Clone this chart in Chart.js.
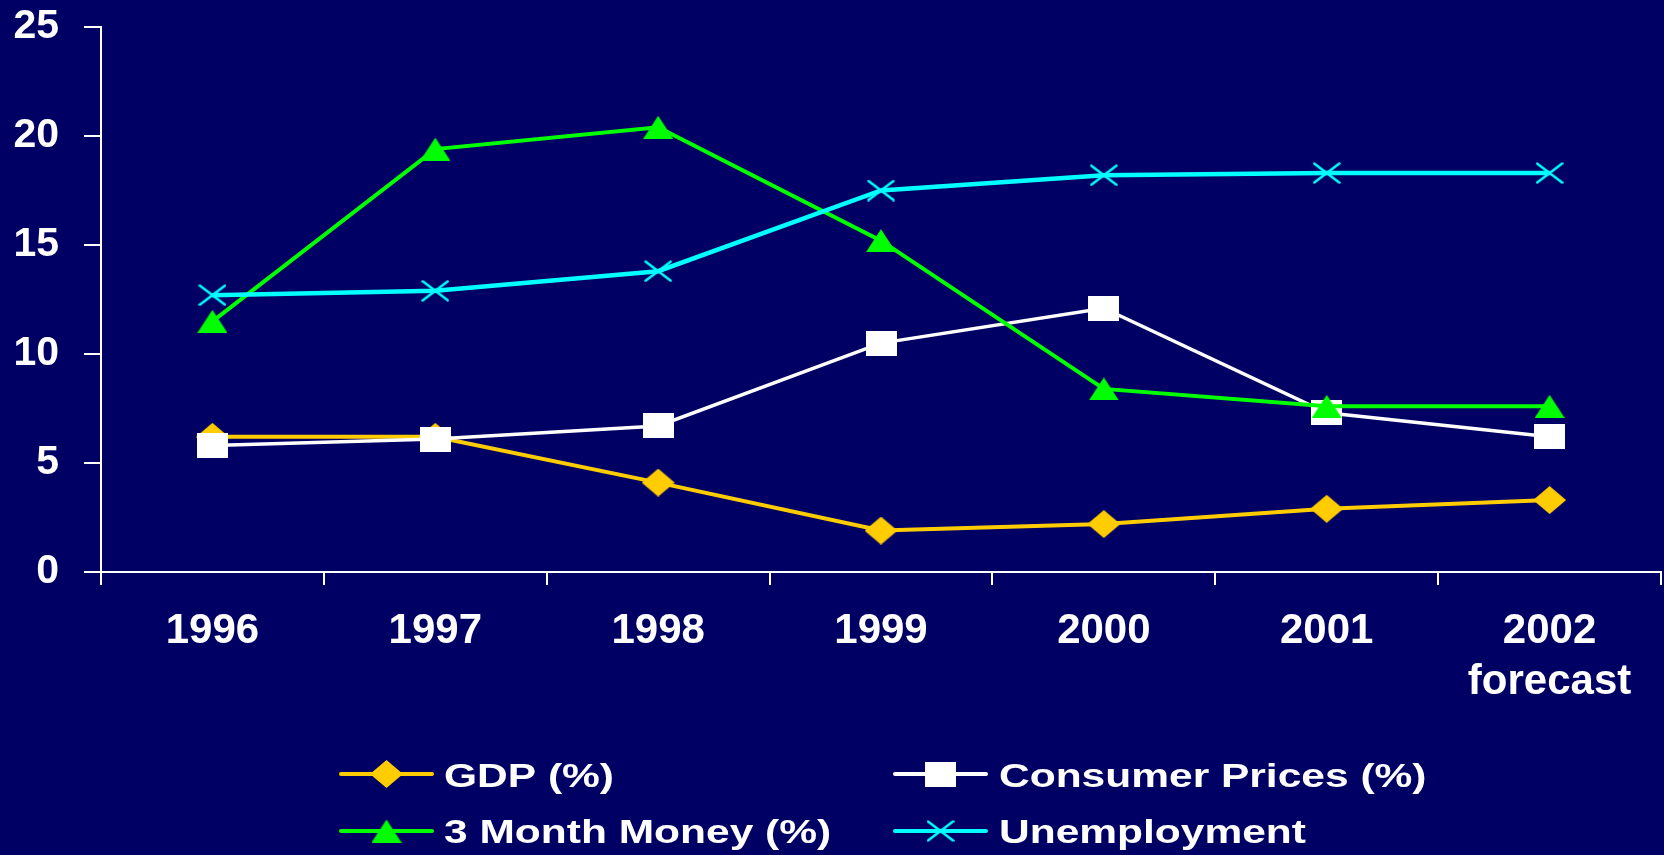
<!DOCTYPE html>
<html>
<head>
<meta charset="utf-8">
<script src="https://cdn.jsdelivr.net/npm/chart.js@4.4.0/dist/chart.umd.min.js"></script>
<style>
html,body{margin:0;padding:0;background:#000064;overflow:hidden}
#wrap{width:1664px;height:855px}
</style>
</head>
<body>
<div id="wrap"><canvas id="c" width="1664" height="855"></canvas></div>
<script>
// ---- data ----
const categories = ['1996', '1997', '1998', '1999', '2000', '2001', ['2002', 'forecast']];
const seriesNames = ['GDP (%)', 'Consumer Prices (%)', '3 Month Money (%)', 'Unemployment'];
const gdp = [6.2, 6.2, 4.1, 1.9, 2.2, 2.9, 3.3];
const consumerPrices = [5.8, 6.1, 6.7, 10.5, 12.1, 7.3, 6.2];
const threeMonthMoney = [11.5, 19.4, 20.4, 15.2, 8.4, 7.6, 7.6];
const unemployment = [12.7, 12.9, 13.8, 17.5, 18.2, 18.3, 18.3];
const yTickValues = [0, 5, 10, 15, 20, 25];

// ---- styles ----
const BG = '#000064';
const FONT = "'Liberation Sans', Arial, Helvetica, sans-serif";
const GOLD = '#FFCC00', WHITE = '#FFFFFF', GREEN = '#00FF00', CYAN = '#00FFFF';

function makeMarker(kind, color) {
  const c = document.createElement('canvas');
  const dims = { diamond: [33, 28], square: [31, 25], triangle: [30, 23], cross: [28, 22] }[kind];
  c.width = dims[0]; c.height = dims[1];
  const g = c.getContext('2d');
  const w = c.width, h = c.height;
  g.fillStyle = color; g.strokeStyle = color;
  g.beginPath();
  if (kind === 'diamond') {
    g.moveTo(w / 2, 0); g.lineTo(w, h / 2); g.lineTo(w / 2, h); g.lineTo(0, h / 2); g.closePath(); g.fill();
  } else if (kind === 'square') {
    g.fillRect(0, 0, w, h);
  } else if (kind === 'triangle') {
    g.moveTo(w / 2, 0); g.lineTo(w, h); g.lineTo(0, h); g.closePath(); g.fill();
  } else {
    g.lineWidth = 2.5; g.lineCap = 'round';
    g.moveTo(1.5, 1.5); g.lineTo(w - 1.5, h - 1.5);
    g.moveTo(w - 1.5, 1.5); g.lineTo(1.5, h - 1.5);
    g.stroke();
  }
  return c;
}

const markers = [
  makeMarker('diamond', GOLD),
  makeMarker('square', WHITE),
  makeMarker('triangle', GREEN),
  makeMarker('cross', CYAN)
];
const colors = [GOLD, WHITE, GREEN, CYAN];
const widths = [4, 3.5, 4, 4.5];
const seriesValues = [gdp, consumerPrices, threeMonthMoney, unemployment];

const datasets = seriesNames.map((name, i) => ({
  label: name,
  data: seriesValues[i],
  borderColor: colors[i],
  backgroundColor: colors[i],
  borderWidth: widths[i],
  pointStyle: markers[i],
  pointRadius: 14,
  pointHoverRadius: 14,
  tension: 0,
  order: 4 - i,
  clip: false
}));

const bgPlugin = {
  id: 'bg',
  beforeDraw(chart) {
    const ctx = chart.ctx;
    ctx.save();
    ctx.fillStyle = BG;
    ctx.fillRect(0, 0, chart.width, chart.height);
    ctx.restore();
  }
};

// legend laid out as a 2 x 2 grid, like the original
const legendGrid = {
  cols: [{ x0: 341, x1: 432, textX: 444 }, { x0: 895, x1: 986, textX: 999 }],
  rows: [{ y: 774, base: 787 }, { y: 831, base: 842.5 }]
};
const legendPlugin = {
  id: 'gridLegend',
  afterDraw(chart) {
    const ctx = chart.ctx;
    chart.data.datasets.forEach((ds, i) => {
      const col = legendGrid.cols[i % 2];
      const row = legendGrid.rows[Math.floor(i / 2)];
      ctx.save();
      ctx.strokeStyle = ds.borderColor;
      ctx.lineWidth = 4;
      ctx.lineCap = 'round';
      ctx.beginPath();
      ctx.moveTo(col.x0, row.y);
      ctx.lineTo(col.x1, row.y);
      ctx.stroke();
      Chart.helpers.drawPoint(ctx, { pointStyle: ds.pointStyle, radius: 14, rotation: 0 }, (col.x0 + col.x1) / 2, row.y);
      ctx.fillStyle = WHITE;
      ctx.font = 'bold 34px ' + FONT;
      ctx.textBaseline = 'alphabetic';
      ctx.textAlign = 'left';
      ctx.translate(col.textX, row.base);
      ctx.scale(1.25, 1);
      ctx.fillText(ds.label, 0, 0);
      ctx.restore();
    });
  }
};

new Chart(document.getElementById('c'), {
  type: 'line',
  data: { labels: categories, datasets },
  options: {
    responsive: false,
    animation: false,
    layout: { autoPadding: false, padding: { top: 27, right: 3, left: 0, bottom: 0 } },
    plugins: {
      legend: { display: false },
      tooltip: { enabled: false }
    },
    scales: {
      x: {
        type: 'category',
        offset: true,
        grid: {
          offset: true,
          drawOnChartArea: false,
          drawTicks: true,
          tickLength: 13,
          color: WHITE,
          lineWidth: 2
        },
        border: { display: true, color: WHITE, width: 2 },
        ticks: {
          color: WHITE,
          font: { family: FONT, size: 42, weight: 'bold', lineHeight: 1.22 },
          padding: 21,
          maxRotation: 0,
          autoSkip: false
        },
        afterFit(axis) {
          axis.height = 283;
          axis.paddingLeft = 0; axis.paddingRight = 0;
          axis.paddingTop = 0; axis.paddingBottom = 0;
        }
      },
      y: {
        min: 0,
        max: 25,
        afterBuildTicks(axis) { axis.ticks = yTickValues.map(v => ({ value: v })); },
        grid: {
          drawOnChartArea: false,
          drawTicks: true,
          tickLength: 17,
          color: WHITE,
          lineWidth: 2
        },
        border: { display: true, color: WHITE, width: 2 },
        ticks: {
          color: WHITE,
          font: { family: FONT, size: 41, weight: 'bold' },
          padding: 25
        },
        afterFit(axis) {
          axis.width = 101;
          axis.paddingTop = 0; axis.paddingBottom = 0;
          axis.paddingLeft = 0; axis.paddingRight = 0;
        }
      }
    }
  },
  plugins: [bgPlugin, legendPlugin]
});
</script>
</body>
</html>
